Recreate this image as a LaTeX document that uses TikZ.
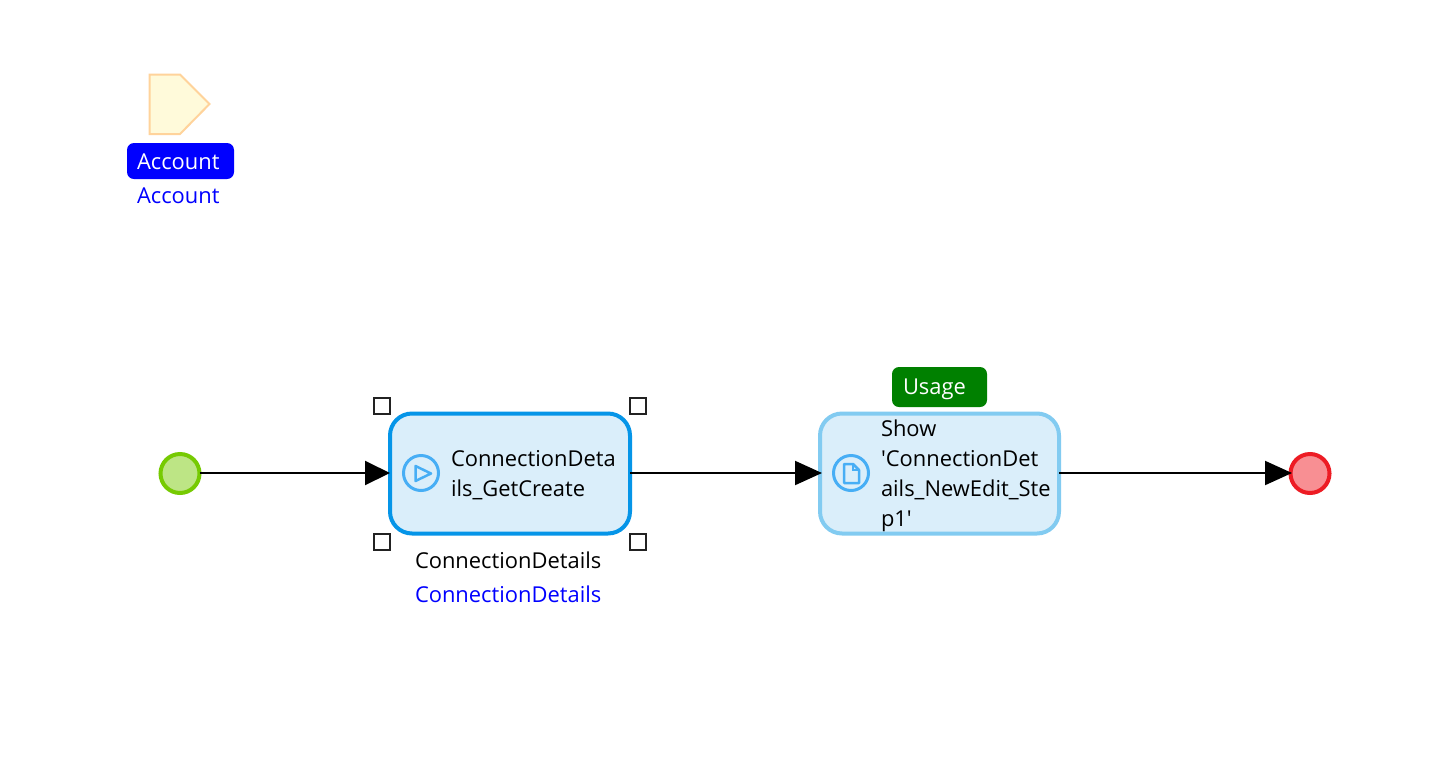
\documentclass[tikz,border=0pt]{standalone}
\usepackage{fontspec}
\setmainfont{Open Sans}
\usetikzlibrary{arrows.meta}
\definecolor{startfill}{HTML}{BDE585}
\definecolor{startline}{HTML}{76CA02}
\definecolor{endfill}{HTML}{F88F93}
\definecolor{endline}{HTML}{ED1C24}
\definecolor{boxfill}{HTML}{DAEEFA}
\definecolor{selline}{HTML}{0595E8}
\definecolor{pageline}{HTML}{82CBF1}
\definecolor{iconline}{HTML}{47AEF5}
\definecolor{paramfill}{HTML}{FFFADA}
\definecolor{paramline}{HTML}{FFD39B}
\definecolor{usagegreen}{HTML}{008000}
\definecolor{handleline}{HTML}{222222}
\tikzset{
  x=1pt,y=-1pt,
  every node/.style={font=\fontsize{21.9}{30}\selectfont,inner sep=0pt,outer sep=0pt},
  eventdot/.style={circle,minimum size=39pt,line width=4pt,draw},
  actbox/.style={rectangle,rounded corners=22pt,minimum width=240pt,minimum height=120pt,line width=4pt,draw,fill=boxfill},
  iconring/.style={circle,minimum size=35pt,line width=3pt,draw=iconline},
  handle/.style={rectangle,minimum size=16pt,line width=2pt,draw=handleline,fill=white},
  badge/.style={rectangle,rounded corners=7pt},
  label/.style={anchor=base west},
  flow/.style={line width=2pt,-{Triangle[length=27pt,width=24pt]}},
  flowshort/.style={line width=2pt,-{Triangle[length=25pt,width=24pt]}},
}
\begin{document}
\begin{tikzpicture}
\useasboundingbox (0,0) rectangle (1435,756);
\fill[white] (0,0) rectangle (1435,756);
% parameter
\draw[line width=2pt,draw=paramline,fill=paramfill] (149.5,74.5) -- (180,74.5) -- (209.5,104) -- (180,134) -- (149.5,134) -- cycle;
\node[badge,fill=blue,minimum width=107pt,minimum height=36pt] (accbadge) at (180.5,161) {};
\node[label,text=white] (accname) at (137,169) {Account};
\node[label,text=blue] (acctype) at (137,203) {Account};
% events
\node[eventdot,draw=startline,fill=startfill] (start) at (180,473.5) {};
\node[eventdot,draw=endline,fill=endfill] (stop) at (1310,473.5) {};
% activities
\node[actbox,draw=selline] (get) at (510,473.5) {};
\node[actbox,draw=pageline,minimum width=239pt] (show) at (939.5,473.5) {};
\node[badge,fill=usagegreen,minimum width=95pt,minimum height=40pt] (usage) at (939.5,387) {};
\node[label,text=white] (usagename) at (903,394) {Usage};
% icons
\node[iconring] (playicon) at (421,473) {};
\draw[line width=2.5pt,draw=iconline,line join=round] (415.5,466) -- (431,473.5) -- (415.5,481) -- cycle;
\node[iconring] (docicon) at (851,473) {};
\draw[line width=2.5pt,draw=iconline,line join=round] (844,464) -- (853,464) -- (859,470) -- (859,483) -- (844,483) -- cycle;
\draw[line width=1.5pt,draw=iconline] (853,464) -- (853,470) -- (859,470);
% texts
\node[label] (getl1) at (451,466) {ConnectionDeta};
\node[label] (getl2) at (451,496) {ils\_GetCreate};
\node[label] (showl1) at (881,436) {Show};
\node[label] (showl2) at (881,466) {\textquotesingle ConnectionDet};
\node[label] (showl3) at (881,496) {ails\_NewEdit\_Ste};
\node[label] (showl4) at (881,526) {p1\textquotesingle};
\node[label] (retname) at (415,568) {ConnectionDetails};
\node[label,text=blue] (rettype) at (415,602) {ConnectionDetails};
% handles
\node[handle] (h1) at (381.5,405.5) {};
\node[handle] (h2) at (637.5,405.5) {};
\node[handle] (h3) at (381.5,541.5) {};
\node[handle] (h4) at (637.5,541.5) {};
% connectors
\draw[flowshort] ([yshift=0.5pt]start.east) -- ([yshift=0.5pt]get.west);
\draw[flow,shorten >=-2pt] ([yshift=0.5pt]get.east) -- ([yshift=0.5pt]show.west);
\draw[flow,shorten >=-1.5pt] ([yshift=0.5pt]show.east) -- ([yshift=0.5pt]stop.west);
\end{tikzpicture}
\end{document}
